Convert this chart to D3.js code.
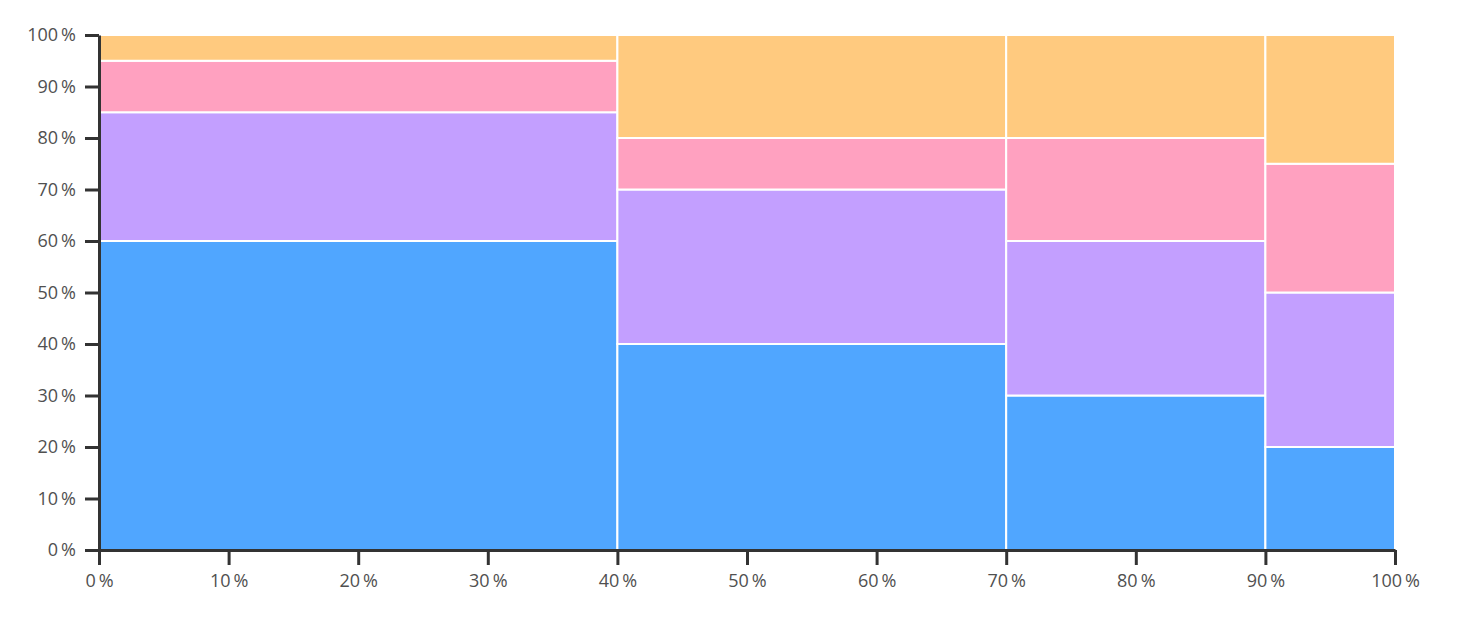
<!DOCTYPE html>
<html><head><meta charset="utf-8">
<script src="https://cdn.jsdelivr.net/npm/d3@7"></script>
<style>body{margin:0;background:#fff}svg{display:block}</style>
</head><body>
<svg id="c" width="1467" height="618"></svg>
<script>
const segments = ["A","B","C","D"];
const segmentWidths = [40, 30, 20, 10];
const series = ["s1","s2","s3","s4"];
const s1 = [60, 40, 30, 20];
const s2 = [25, 30, 30, 30];
const s3 = [10, 10, 20, 25];
const s4 = [5, 20, 20, 25];
const colors = ["#50a6ff", "#c39fff", "#ffa1c0", "#ffca7f"];
const tickVals = [0,10,20,30,40,50,60,70,80,90,100];

const svg = d3.select("#c");
const m = {l:99, r:1467-1395, t:35, b:618-550};
const W = 1467, H = 618;
const x = d3.scaleLinear().domain([0,100]).range([m.l, W-m.r]);
const y = d3.scaleLinear().domain([0,100]).range([H-m.b, m.t]);

const vals = [s1,s2,s3,s4];
let cx = 0;
const rects = [];
segments.forEach((seg,i)=>{
  let cy = 0;
  vals.forEach((sv,j)=>{
    rects.push({x0:cx, x1:cx+segmentWidths[i], y0:cy, y1:cy+sv[i], c:colors[j]});
    cy += sv[i];
  });
  cx += segmentWidths[i];
});
svg.append("g").selectAll("rect").data(rects).join("rect")
  .attr("x", d=>x(d.x0)).attr("y", d=>y(d.y1))
  .attr("width", d=>x(d.x1)-x(d.x0)).attr("height", d=>y(d.y0)-y(d.y1))
  .attr("fill", d=>d.c).attr("stroke","#fff").attr("stroke-width",2);

const fmt = d=>d+"\u2009%";
const xa = svg.append("g").attr("transform",`translate(0,${H-m.b})`)
  .call(d3.axisBottom(x).tickValues(tickVals).tickFormat(fmt).tickSize(15).tickPadding(9).tickSizeOuter(0));
const ya = svg.append("g").attr("transform",`translate(${m.l},0)`)
  .call(d3.axisLeft(y).tickValues(tickVals).tickFormat(fmt).tickSize(14).tickPadding(9).tickSizeOuter(0));
[xa,ya].forEach(a=>{
  a.select(".domain").attr("stroke","#333").attr("stroke-width",3);
  a.selectAll(".tick line").attr("stroke","#333").attr("stroke-width",3);
  a.selectAll("text").attr("fill","#505050").style("font-family","'Open Sans', sans-serif").style("font-size","18px");
});
</script>
</body></html>
